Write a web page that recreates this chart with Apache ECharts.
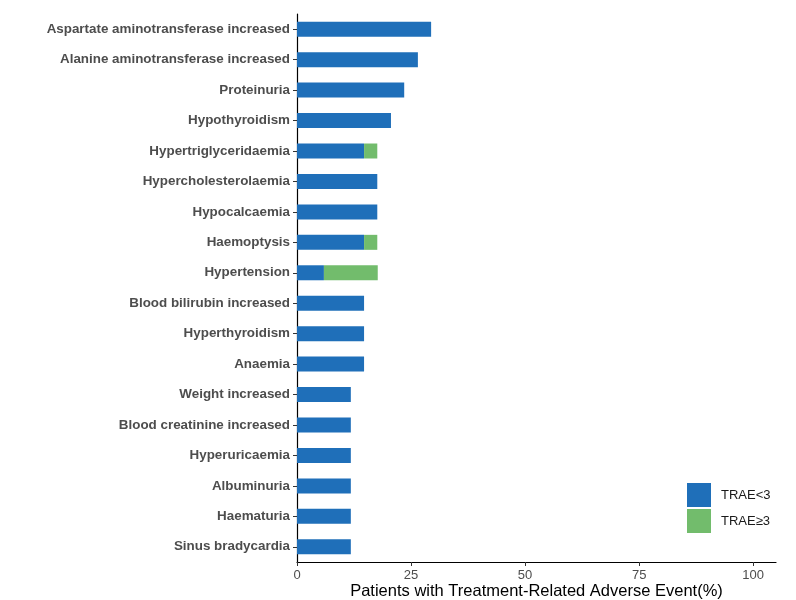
<!DOCTYPE html>
<html>
<head>
<meta charset="utf-8">
<script src="https://cdn.jsdelivr.net/npm/echarts@6/dist/echarts.min.js"></script>
<style>html,body{margin:0;padding:0;background:#fff;}#chart{width:796px;height:600px;}</style>
</head>
<body>
<div id="chart"></div>
<script>
// Categories from bottom to top (ECharts category y-axis starts at bottom)
const categories = [
  'Sinus bradycardia','Haematuria','Albuminuria','Hyperuricaemia','Blood creatinine increased',
  'Weight increased','Anaemia','Hyperthyroidism','Blood bilirubin increased','Hypertension',
  'Haemoptysis','Hypocalcaemia','Hypercholesterolaemia','Hypertriglyceridaemia','Hypothyroidism',
  'Proteinuria','Alanine aminotransferase increased','Aspartate aminotransferase increased'
];
const traeBelow3 = [11.8,11.8,11.8,11.8,11.8,11.8,14.7,14.7,14.7,5.9,14.7,17.6,17.6,14.7,20.6,23.5,26.5,29.4];
const traeAbove3 = [0,0,0,0,0,0,0,0,0,11.8,2.9,0,0,2.9,0,0,0,0];
const xTicks = [0,25,50,75,100];
const seriesNames = ['TRAE<3','TRAE\u22653'];

const chart = echarts.init(document.getElementById('chart'));
const labelColor = '#4d4d4d';
chart.setOption({
  animation:false,
  backgroundColor:'#fff',
  grid:{left:297,right:20,top:14,bottom:38,containLabel:false,outerBoundsMode:'none'},
  legend:{
    orient:'vertical', left:687, top:483, padding:0,
    itemWidth:24, itemHeight:24, itemGap:2,
    icon:'rect',
    textStyle:{fontFamily:'Liberation Sans',fontSize:13,color:'#1a1a1a',padding:[0,0,0,5]},
    data:seriesNames
  },
  xAxis:{
    type:'value', min:0, max:105, interval:25,
    axisLine:{show:true,lineStyle:{color:'#000',width:1.2}},
    axisTick:{show:true,length:4,lineStyle:{color:'#333'},customValues:xTicks},
    axisLabel:{color:labelColor,fontFamily:'Liberation Sans',fontSize:13,margin:7,customValues:xTicks},
    splitLine:{show:false},
    name:'Patients with Treatment-Related Adverse Event(%)',
    nameLocation:'middle', nameGap:29, nameMoveOverlap:false,
    nameTextStyle:{color:'#000',fontFamily:'Liberation Sans',fontSize:16.5,verticalAlign:'middle'}
  },
  yAxis:{
    type:'category', data:categories,
    axisLine:{show:true,lineStyle:{color:'#000',width:1.2}},
    axisTick:{show:true,length:4,alignWithLabel:true,lineStyle:{color:'#333'}},
    axisLabel:{color:labelColor,fontFamily:'Liberation Sans',fontWeight:'bold',fontSize:13.4,margin:7}
  },
  series:[
    {name:seriesNames[0],type:'bar',stack:'t',data:traeBelow3,barWidth:15,
     itemStyle:{color:'#1f6fb9'}},
    {name:seriesNames[1],type:'bar',stack:'t',data:traeAbove3,barWidth:15,
     itemStyle:{color:'#72bc6c'}}
  ]
});
</script>
</body>
</html>
